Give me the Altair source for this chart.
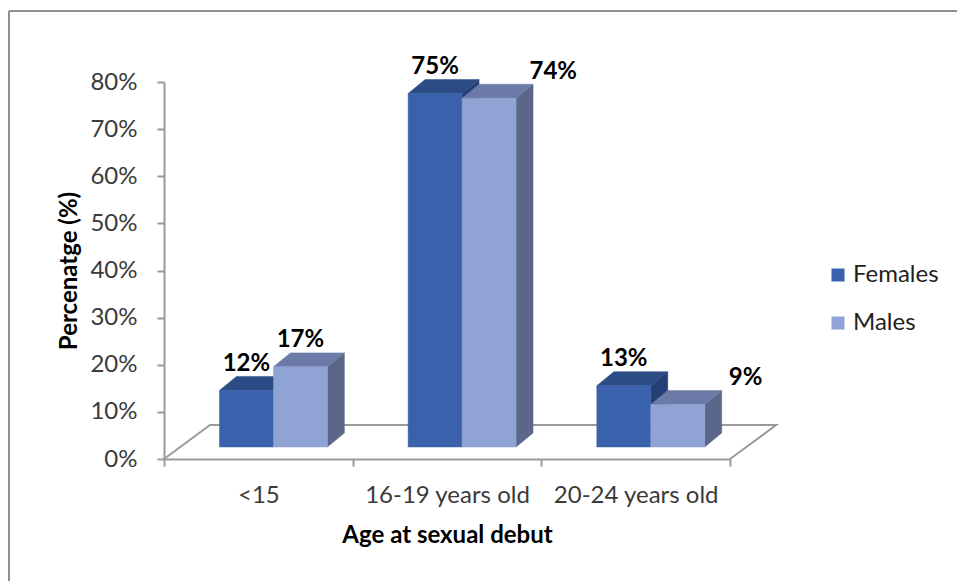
import altair as alt
import pandas as pd

# ---------------- data ----------------
categories = ["<15", "16-19 years old", "20-24 years old"]
series = ["Females", "Males"]
females = [12, 75, 13]
males = [17, 74, 9]

# ---------------- style constants ----------------
FONT = "Lato"
W, H = 566, 377
PAD = {"left": 164, "top": 82, "right": 957 - 164 - W, "bottom": 581 - 82 - H}
F_FRONT, F_TOP, F_SIDE = "#3A62AC", "#2C4C86", "#243F75"
M_FRONT, M_TOP, M_SIDE = "#8FA3D4", "#6B7AA6", "#5B6788"
AXIS_GRAY = "#9a9a9a"
BASE = 2.55      # bars stand on the floor, a bit behind the front edge
SHIFT = 0.08     # horizontal shift of the bars' front faces (3D depth)
BAR_W = 0.286    # width of one bar, in category units
DX, DY = 0.09, 2.97          # bar depth projection
FLOOR_DX, FLOOR_DY = 0.244, 7.2
LABEL_GAP = 2.7
LABEL_NUDGE = {("Males", "16-19 years old"): 0.34, ("Males", "20-24 years old"): 0.36}

front, tops, sides, labels = [], [], [], []
for i, cat in enumerate(categories):
    for j, (s, vals) in enumerate(zip(series, [females, males])):
        v = vals[i]
        x0 = i + 0.5 - BAR_W + j * BAR_W + SHIFT
        x1 = x0 + BAR_W
        yb, yt = BASE, v + BASE
        front.append({"category": cat, "series": s, "x": x0, "x2": x1, "y": yt, "y2": yb})
        for px, up, lo in [(x0, yt, yt), (x0 + DX, yt + DY, yt), (x1, yt + DY, yt), (x1 + DX, yt + DY, yt + DY)]:
            tops.append({"category": cat, "series": s, "x": px, "y": up, "y2": lo})
        for px, up, lo in [(x1, yt, yb), (x1 + DX, yt + DY, yb + DY)]:
            sides.append({"category": cat, "series": s, "x": px, "y": up, "y2": lo})
        labels.append({"category": cat, "series": s,
                       "x": (x0 + x1) / 2 + LABEL_NUDGE.get((s, cat), 0.0),
                       "y": yt + DY + LABEL_GAP, "text": f"{v}%"})

front_df = pd.DataFrame(front)
tops_df = pd.DataFrame(tops)
sides_df = pd.DataFrame(sides)
labels_df = pd.DataFrame(labels)
n = len(categories)
floor_df = pd.DataFrame({"x": [0, FLOOR_DX, n + FLOOR_DX, n],
                         "y": [0, FLOOR_DY, FLOOR_DY, 0],
                         "o": [0, 1, 2, 3]})

# ---------------- scales / axes ----------------
xscale = alt.Scale(domain=[0, n], nice=False, zero=False)
yscale = alt.Scale(domain=[0, 80], nice=False, zero=True)
yaxis = alt.Axis(values=list(range(0, 81, 10)), labelExpr="datum.value + '%'",
                 grid=False, tickSize=7, labelPadding=20,
                 domainColor=AXIS_GRAY, tickColor=AXIS_GRAY, domainWidth=2, tickWidth=2,
                 labelFont=FONT, labelFontSize=24, labelColor="#3a3a3a",
                 titleFont=FONT, titleFontSize=24, titleFontWeight="bold", titleColor="#000000",
                 titleX=-95, titleY=H / 2, titleAngle=270, titleAlign="center",
                 titleBaseline="middle")


def X(f):
    return alt.X(f"{f}:Q", scale=xscale, axis=None)


def Y(f):
    return alt.Y(f"{f}:Q", scale=yscale, axis=yaxis, title="Percenatge (%)")


dummy = pd.DataFrame({"a": [0]})
frame_left = alt.Chart(dummy).mark_rule(color="#8f8f8f", strokeWidth=2).encode(
    x=alt.value(9 - PAD["left"]), y=alt.value(11 - PAD["top"]), y2=alt.value(H + PAD["bottom"]))
frame_top = alt.Chart(dummy).mark_rule(color="#8f8f8f", strokeWidth=2).encode(
    x=alt.value(9 - PAD["left"]), x2=alt.value(W + PAD["right"]), y=alt.value(11 - PAD["top"]))

floor = alt.Chart(floor_df).mark_line(color=AXIS_GRAY, strokeWidth=2).encode(
    x=X("x"), y=Y("y"), order="o:Q")


def face(df, s, color):
    return alt.Chart(df[df["series"] == s]).mark_area(
        color=color, stroke=color, strokeWidth=0.5, orient="vertical", interpolate="linear"
    ).encode(x=X("x"), y=Y("y"), y2=alt.Y2("y2:Q"), detail="category:N")


fronts = alt.Chart(front_df).mark_rect(strokeWidth=0.5).encode(
    x=X("x"), x2=alt.X2("x2:Q"), y=Y("y"), y2=alt.Y2("y2:Q"),
    color=alt.Color("series:N", scale=alt.Scale(domain=series, range=[F_FRONT, M_FRONT]),
                    legend=alt.Legend(title=None, orient="none", legendX=662, legendY=181,
                                      symbolType="square", symbolSize=169, symbolStrokeWidth=0,
                                      labelFont=FONT, labelFontSize=24, labelColor="#1f1f1f",
                                      labelOffset=3, rowPadding=24, padding=0)),
    stroke=alt.Color("series:N", scale=alt.Scale(domain=series, range=[F_FRONT, M_FRONT]), legend=None))

texts = alt.Chart(labels_df).mark_text(font=FONT, fontSize=24, fontWeight="bold", color="#000000",
                                       baseline="middle", align="center").encode(
    x=X("x"), y=Y("y"), text="text:N")

inner = alt.layer(
    frame_left, frame_top, floor,
    face(sides_df, "Females", F_SIDE), face(tops_df, "Females", F_TOP),
    face(sides_df, "Males", M_SIDE), face(tops_df, "Males", M_TOP),
    fronts, texts,
)

axis_layer = alt.Chart(pd.DataFrame({"category": categories})).mark_bar(opacity=0).encode(
    x=alt.X("category:N", sort=categories,
            scale=alt.Scale(type="band", paddingInner=0, paddingOuter=0),
            axis=alt.Axis(tickBand="extent", labelAngle=0, tickSize=7, labelPadding=36,
                          labelBaseline="alphabetic",
                          domainColor=AXIS_GRAY, tickColor=AXIS_GRAY, domainWidth=2, tickWidth=2,
                          labelFont=FONT, labelFontSize=24, labelColor="#3a3a3a",
                          title="Age at sexual debut", titleFont=FONT, titleFontSize=24,
                          titleFontWeight="bold", titleColor="#000000",
                          titleY=83, titleBaseline="alphabetic")))

chart = alt.layer(axis_layer, inner).resolve_scale(x="independent").properties(
    width=W, height=H, padding=PAD, autosize=alt.AutoSizeParams(type="none"),
    background="white"
).configure_view(stroke=None)

chart.save("out.html", embed_options={"renderer": "svg", "actions": False})
